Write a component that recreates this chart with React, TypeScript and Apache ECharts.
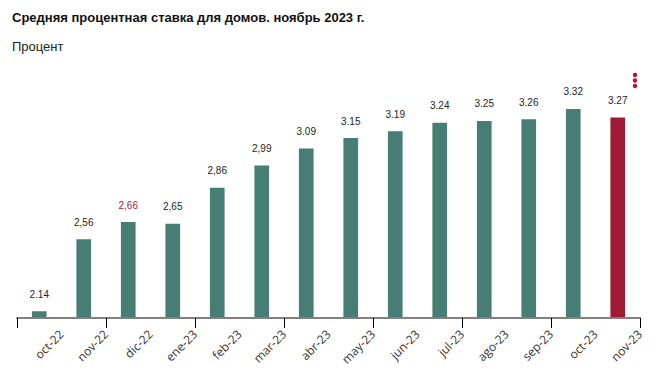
import React, { useEffect, useRef } from "react";
import * as echarts from "echarts";

const categories = ["oct-22", "nov-22", "dic-22", "ene-23", "feb-23", "mar-23", "abr-23", "may-23", "jun-23", "jul-23", "ago-23", "sep-23", "oct-23", "nov-23"];
const values = [2.14, 2.56, 2.66, 2.65, 2.86, 2.99, 3.09, 3.15, 3.19, 3.24, 3.25, 3.26, 3.32, 3.27];
const valueLabels = ["2.14", "2,56", "2,66", "2,65", "2,86", "2,99", "3.09", "3.15", "3.19", "3.24", "3.25", "3.26", "3.32", "3.27"];
const highlightLabelIndex = 2;
const highlightBarIndex = 13;

const TEAL = "#467e75";
const RED = "#9e1a35";

export default function App() {
  const ref = useRef<HTMLDivElement>(null);
  useEffect(() => {
    if (!ref.current) return;
    const chart = echarts.init(ref.current, null, { renderer: "svg" });
    chart.setOption({
      animation: false,
      backgroundColor: "#ffffff",
      title: [
        {
          text: "Средняя процентная ставка для домов. ноябрь 2023 г.",
          left: 7,
          top: 6,
          textStyle: { fontFamily: "Liberation Sans", fontSize: 13, fontWeight: "bold", color: "#111" },
        },
        {
          text: "Процент",
          left: 7,
          top: 35,
          textStyle: { fontFamily: "Liberation Sans", fontSize: 13, fontWeight: "normal", color: "#222" },
        },
      ],
      grid: { left: 17, right: 28, top: 61, bottom: 64 },
      xAxis: [
        {
          type: "category",
          data: categories,
          boundaryGap: true,
          axisLine: { show: true, lineStyle: { color: "#808080", width: 2 } },
          axisTick: { show: true, length: 10, lineStyle: { color: "#000", width: 1 } },
          axisLabel: { show: false },
          z: 5,
        },
        {
          type: "category",
          data: ["", ...categories],
          boundaryGap: false,
          position: "bottom",
          axisLine: { show: false },
          axisTick: { show: false },
          axisLabel: {
            show: true,
            rotate: 45,
            margin: 14,
            interval: 0,
            fontFamily: "Open Sans",
            fontSize: 12,
            color: "#333",
          },
        },
      ],
      yAxis: {
        type: "value",
        min: 2.1,
        max: 3.6,
        show: false,
        splitLine: { show: false },
      },
      series: [
        {
          type: "bar",
          xAxisIndex: 0,
          data: values.map((v, i) => ({
            value: v,
            itemStyle: { color: i === highlightBarIndex ? RED : TEAL },
            label: i === highlightLabelIndex ? { color: "#a0213a" } : undefined,
          })),
          barWidth: "33%",
          label: {
            show: true,
            position: "top",
            distance: 12,
            fontFamily: "Liberation Sans",
            fontSize: 10,
            formatter: (p: any) => valueLabels[p.dataIndex],
            color: "#222",
          },
        },
      ],
      graphic: [
        { type: "circle", shape: { cx: 635, cy: 75, r: 2.2 }, style: { fill: "#c0103c" } },
        { type: "circle", shape: { cx: 635, cy: 80.5, r: 2.2 }, style: { fill: "#c0103c" } },
        { type: "circle", shape: { cx: 635, cy: 86, r: 2.2 }, style: { fill: "#c0103c" } },
      ],
    });
    return () => chart.dispose();
  }, []);
  return <div ref={ref} style={{ width: 668, height: 382, position: "absolute", left: 0, top: 0 }} />;
}
